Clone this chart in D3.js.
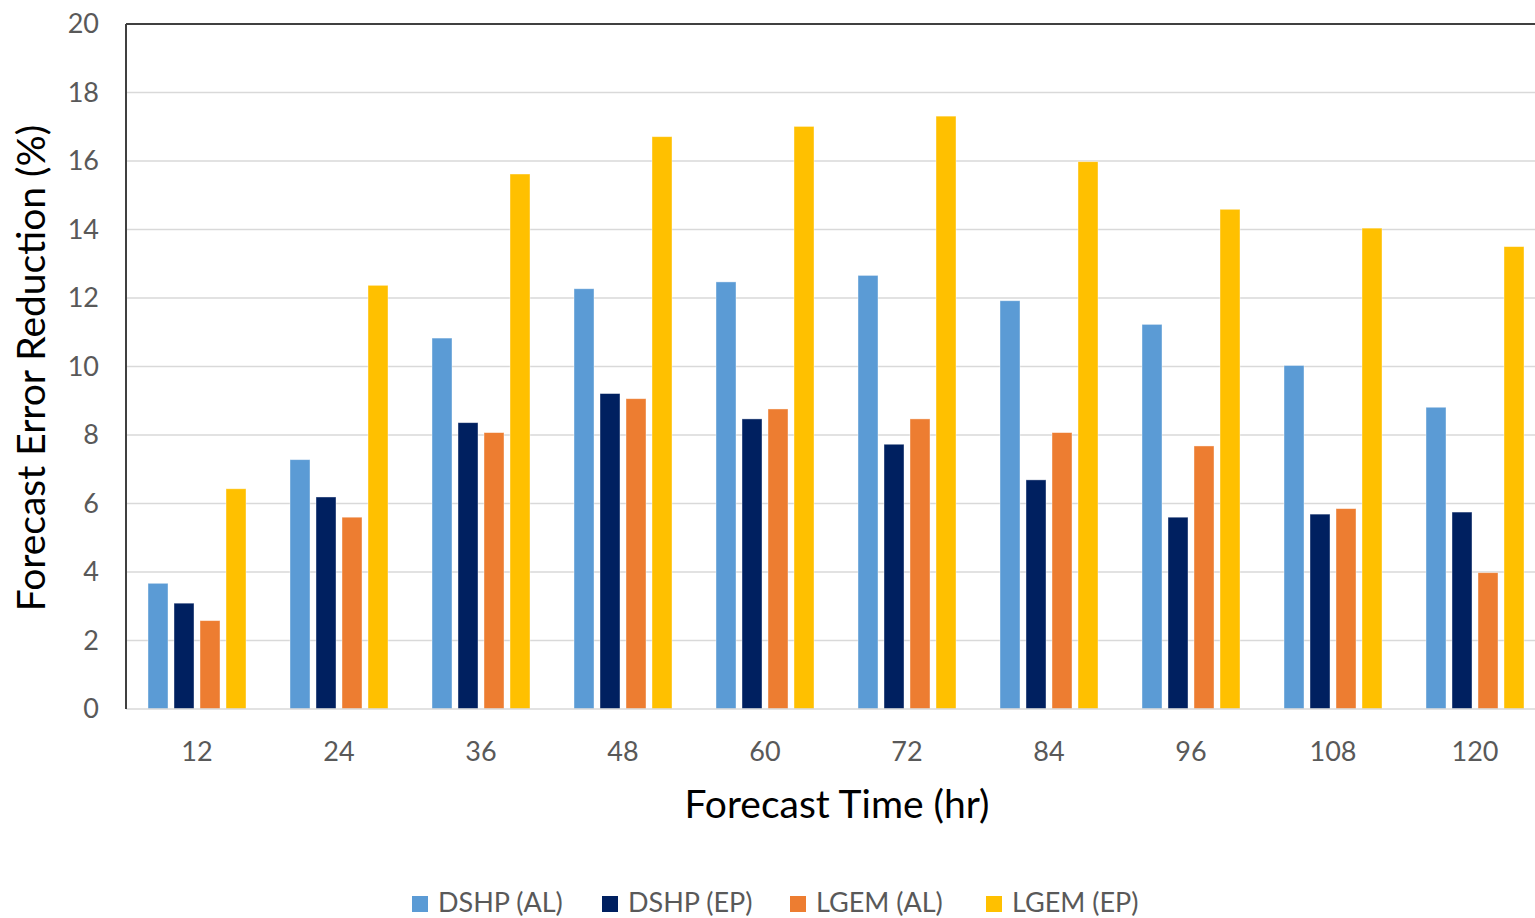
<!DOCTYPE html>
<html>
<head>
<meta charset="utf-8">
<script src="https://cdn.jsdelivr.net/npm/d3@7"></script>
<style>
  html, body { margin: 0; padding: 0; background: #fff; }
  svg { display: block; }
  text { font-family: Lato, "Open Sans", sans-serif; }
</style>
</head>
<body>
<svg id="chart" width="1535" height="918"></svg>
<script>
const categories = ["12", "24", "36", "48", "60", "72", "84", "96", "108", "120"];
const seriesNames = ["DSHP (AL)", "DSHP (EP)", "LGEM (AL)", "LGEM (EP)"];
const dshpAL = [3.67, 7.28, 10.83, 12.27, 12.47, 12.66, 11.92, 11.23, 10.03, 8.81];
const dshpEP = [3.09, 6.19, 8.36, 9.21, 8.47, 7.73, 6.69, 5.60, 5.69, 5.75];
const lgemAL = [2.58, 5.60, 8.07, 9.06, 8.76, 8.47, 8.07, 7.68, 5.85, 3.98];
const lgemEP = [6.43, 12.37, 15.62, 16.71, 17.01, 17.31, 15.98, 14.59, 14.04, 13.50];
const colors = ["#5B9BD5", "#002060", "#ED7D31", "#FFC000"];
const yTicks = [0, 2, 4, 6, 8, 10, 12, 14, 16, 18, 20];
const xTitle = "Forecast Time (hr)";
const yTitle = "Forecast Error Reduction (%)";

const seriesValues = [dshpAL, dshpEP, lgemAL, lgemEP];
const svg = d3.select("#chart");

const pLeft = 126, pRight = 1546, pTop = 24, pBottom = 709;

const x0 = d3.scaleBand().domain(categories).range([pLeft, pRight]).padding(0);
const bw = x0.bandwidth();
const x1 = d3.scaleBand().domain(seriesNames)
  .range([bw * 22 / 142, bw * 120 / 142]).paddingInner(6 / 26).paddingOuter(0);
const y = d3.scaleLinear().domain([0, 20]).range([pBottom, pTop]);

// gridlines
svg.append("g").selectAll("line").data(yTicks.filter(t => t > 0 && t < 20)).join("line")
  .attr("x1", pLeft).attr("x2", pRight)
  .attr("y1", d => y(d)).attr("y2", d => y(d))
  .attr("stroke", "#d9d9d9").attr("stroke-width", 1.5);

// bars
const groups = svg.append("g").selectAll("g").data(categories).join("g")
  .attr("transform", d => `translate(${x0(d)},0)`);
groups.selectAll("rect")
  .data((c, ci) => seriesNames.map((s, si) => ({ s, si, v: seriesValues[si][ci] })))
  .join("rect")
  .attr("x", d => x1(d.s))
  .attr("width", x1.bandwidth())
  .attr("y", d => y(d.v))
  .attr("height", d => y(0) - y(d.v))
  .attr("fill", d => colors[d.si])
  .attr("stroke", "#ffffff").attr("stroke-opacity", 0.5).attr("stroke-width", 0.8);

// bottom axis line
svg.append("line").attr("x1", pLeft).attr("x2", pRight)
  .attr("y1", pBottom).attr("y2", pBottom)
  .attr("stroke", "#d9d9d9").attr("stroke-width", 1.5);

// plot frame top & left
svg.append("line").attr("x1", pLeft).attr("x2", pRight)
  .attr("y1", pTop).attr("y2", pTop)
  .attr("stroke", "#404040").attr("stroke-width", 2);
svg.append("line").attr("x1", pLeft).attr("x2", pLeft)
  .attr("y1", pTop).attr("y2", pBottom)
  .attr("stroke", "#404040").attr("stroke-width", 2);

// y axis
const yAxis = svg.append("g").attr("transform", `translate(${pLeft},0)`)
  .call(d3.axisLeft(y).tickValues(yTicks).tickSize(0).tickPadding(27));
yAxis.select(".domain").remove();
yAxis.selectAll("text").attr("fill", "#595959").style("font-size", "27px")
  .style("font-family", "Lato, sans-serif");

// x axis
const xAxis = svg.append("g").attr("transform", `translate(0,${pBottom})`)
  .call(d3.axisBottom(x0).tickSize(0).tickPadding(33));
xAxis.select(".domain").remove();
xAxis.selectAll("text").attr("fill", "#595959").style("font-size", "27px")
  .style("font-family", "Lato, sans-serif");

// axis titles
svg.append("text")
  .attr("x", 837).attr("y", 818)
  .attr("text-anchor", "middle")
  .style("font-size", "39px").attr("fill", "#000")
  .text(xTitle);
svg.append("text")
  .attr("transform", "translate(45,368) rotate(-90)")
  .attr("text-anchor", "middle")
  .style("font-size", "39px").attr("fill", "#000")
  .text(yTitle);

// legend
const legendX = [412, 602, 790, 986];
const lg = svg.append("g").selectAll("g").data(seriesNames).join("g")
  .attr("transform", (d, i) => `translate(${legendX[i]},896)`);
lg.append("rect").attr("x", 0).attr("y", 0).attr("width", 16).attr("height", 16)
  .attr("fill", (d, i) => colors[i]);
lg.append("text").attr("x", 26).attr("y", 16)
  .style("font-size", "27px").attr("fill", "#595959")
  .text(d => d);
</script>
</body>
</html>
